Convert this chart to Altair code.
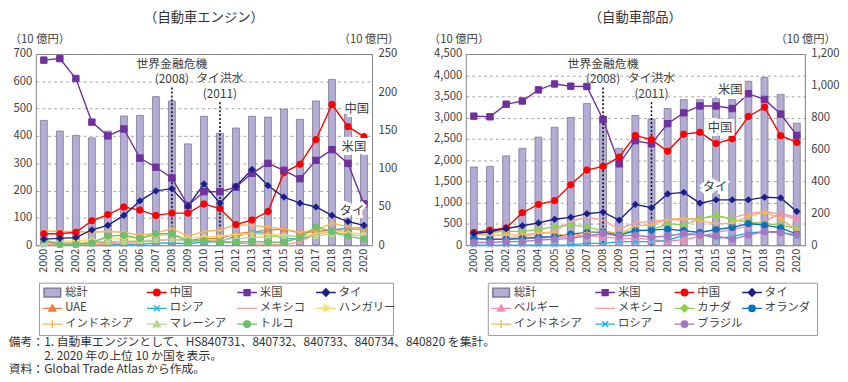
import altair as alt
import pandas as pd

FONT = "Noto Sans CJK JP"
TXT = "#404040"

YEARS = [str(y) for y in range(2000, 2021)]

# ---------------- 自動車エンジン ----------------
ENG_TOTAL = [457, 418, 402, 393, 418, 473, 475, 544, 528, 371, 472, 410, 429, 472, 469, 498, 461, 528, 607, 482, 371]
ENG_CHINA = [15, 15, 17, 32, 40, 50, 46, 39, 42, 42, 54, 48, 27, 33, 44, 95, 106, 138, 184, 155, 142]
ENG_US = [242, 244, 218, 161, 143, 152, 114, 102, 88, 52, 70, 70, 76, 94, 107, 98, 87, 111, 125, 107, 54]
ENG_THAI = [8, 9, 10, 20, 26, 39, 58, 71, 74, 51, 80, 55, 77, 99, 78, 63, 55, 50, 39, 31, 26]
ENG_UAE = [3, 3, 3, 4, 4, 5, 5, 6, 8, 6, 9, 9, 15, 17, 20, 21, 16, 18, 20, 22, 23]
ENG_RUSSIA = [0, 0, 0, 1, 1, 1, 1, 3, 3, 2, 4, 5, 12, 16, 16, 9, 8, 14, 20, 22, 20]
ENG_MEXICO = [1, 1, 1, 1, 2, 3, 4, 6, 8, 5, 6, 6, 3, 2, 1, 1, 4, 15, 18, 21, 21]
ENG_HUNGARY = [5, 5, 6, 7, 8, 9, 10, 12, 14, 9, 11, 12, 14, 15, 14, 13, 12, 15, 19, 16, 15]
ENG_INDONESIA = [19, 18, 18, 17, 18, 17, 13, 16, 22, 12, 18, 20, 27, 26, 24, 21, 17, 20, 29, 24, 20]
ENG_MALAYSIA = [3, 3, 3, 4, 5, 5, 6, 7, 8, 5, 7, 7, 9, 10, 11, 12, 12, 12, 15, 14, 12]
ENG_TURKEY = [7, 1, 1, 3, 12, 13, 9, 15, 15, 5, 6, 4, 4, 5, 4, 4, 10, 24, 18, 12, 8]

ENG_NAMES = ["中国", "米国", "タイ", "UAE", "ロシア", "メキシコ", "ハンガリー", "インドネシア", "マレーシア", "トルコ"]
ENG_VALUES = [ENG_CHINA, ENG_US, ENG_THAI, ENG_UAE, ENG_RUSSIA, ENG_MEXICO, ENG_HUNGARY,
              ENG_INDONESIA, ENG_MALAYSIA, ENG_TURKEY]
ENG_LEGEND = ["総計", "中国", "米国", "タイ", "UAE", "ロシア", "メキシコ", "ハンガリー", "インドネシア", "マレーシア", "トルコ"]
ENG_LABELS = ["中国", "米国", "タイ"]
ENG_LABEL_YEARS = ["2019", "2019", "2019"]
ENG_LABEL_VALUES = [178, 128, 45]

# ---------------- 自動車部品 ----------------
PRT_TOTAL = [1840, 1855, 2103, 2281, 2544, 2776, 3008, 3333, 3039, 2281, 3055, 2969, 3217, 3426, 3426, 3449, 3426, 3858, 3951, 3550, 2872]
PRT_US = [810, 806, 885, 905, 975, 1012, 998, 996, 788, 511, 656, 637, 763, 831, 874, 874, 858, 951, 915, 823, 689]
PRT_CHINA = [80, 95, 109, 204, 256, 280, 379, 472, 495, 553, 689, 662, 590, 697, 709, 639, 668, 808, 866, 687, 645]
PRT_THAI = [74, 85, 105, 122, 140, 163, 175, 198, 208, 157, 256, 235, 322, 332, 264, 285, 285, 285, 301, 297, 212]
PRT_BELGIUM = [40, 38, 40, 40, 45, 50, 55, 60, 55, 40, 45, 35, 25, 35, 55, 80, 100, 120, 150, 200, 175]
PRT_MEXICO = [40, 40, 45, 55, 70, 88, 150, 177, 157, 100, 142, 150, 160, 160, 170, 180, 170, 200, 210, 195, 160]
PRT_CANADA = [74, 80, 87, 87, 99, 117, 126, 117, 89, 74, 95, 95, 136, 126, 167, 188, 161, 146, 136, 126, 105]
PRT_NETHERLANDS = [43, 37, 37, 43, 50, 54, 70, 80, 85, 64, 91, 95, 101, 91, 80, 99, 111, 136, 126, 109, 70]
PRT_INDONESIA = [70, 64, 64, 66, 78, 78, 55, 80, 90, 70, 120, 130, 161, 171, 153, 136, 139, 181, 208, 167, 95]
PRT_RUSSIA = [0, 0, 0, 0, 0, 1, 2, 12, 12, 23, 23, 23, 29, 64, 70, 43, 54, 78, 85, 85, 54]
PRT_BRAZIL = [17, 17, 23, 23, 33, 37, 43, 58, 74, 58, 64, 50, 58, 74, 64, 58, 37, 64, 85, 78, 64]

PRT_NAMES = ["米国", "中国", "タイ", "ベルギー", "メキシコ", "カナダ", "オランダ", "インドネシア", "ロシア", "ブラジル"]
PRT_VALUES = [PRT_US, PRT_CHINA, PRT_THAI, PRT_BELGIUM, PRT_MEXICO, PRT_CANADA, PRT_NETHERLANDS,
              PRT_INDONESIA, PRT_RUSSIA, PRT_BRAZIL]
PRT_LEGEND = ["総計", "米国", "中国", "タイ", "ベルギー", "メキシコ", "カナダ", "オランダ", "インドネシア", "ロシア", "ブラジル"]
PRT_LABELS = ["米国", "中国", "タイ"]
PRT_LABEL_YEARS = ["2016", "2015", "2015"]
PRT_LABEL_VALUES = [971, 736, 365]

EVENT_YEARS = ["2008", "2011"]
EVENT_NAMES = ["世界金融危機", "タイ洪水"]
EVENT_SUBS = ["(2008)", "(2011)"]

NOTES = [
    "備考：1.  自動車エンジンとして、HS840731、840732、840733、840734、840820 を集計。",
    "\u200b　　　2.  2020 年の上位 10 か国を表示。",
    "資料：Global Trade Atlas から作成。",
]

# ---------------- styles ----------------
PLOT_H = 194
TOTAL_FILL = "#b3add6"
TOTAL_EDGE = "#7a7890"
COLORS = {
    "中国": "#ff0000", "米国": "#7030a0", "タイ": "#1b1f8a", "UAE": "#f07c3a",
    "ロシア": "#1fb2ea", "メキシコ": "#ff9c9c", "ハンガリー": "#ffd966", "インドネシア": "#fbb654",
    "マレーシア": "#b5d98f", "トルコ": "#6cc06a", "ベルギー": "#f28cb5", "カナダ": "#8fd14f",
    "オランダ": "#0b72c0", "ブラジル": "#a678c2",
}
MARKERS = {
    "中国": "circle", "米国": "square", "タイ": "diamond", "UAE": "triangle",
    "ロシア": "x", "メキシコ": None, "ハンガリー": "asterisk", "インドネシア": "plus",
    "マレーシア": "triangle", "トルコ": "circle", "ベルギー": "triangle", "カナダ": "diamond",
    "オランダ": "circle", "ブラジル": "circle",
}
PLOT_SHAPES = {
    "circle": "circle", "square": "square", "diamond": "diamond", "triangle": "triangle-up",
    "plus": "M-1,0H1M0,-1V1",
    "x": "M-0.8,-0.8L0.8,0.8M0.8,-0.8L-0.8,0.8",
    "asterisk": "M-1,0H1M0,-1V1M-0.7,-0.7L0.7,0.7M0.7,-0.7L-0.7,0.7",
}
LINE = "M-1,0H1"
LEG_SHAPES = {
    None: LINE,
    "circle": LINE + "M0.33,0A0.33,0.33 0 1 1 -0.33,0A0.33,0.33 0 1 1 0.33,0Z",
    "square": LINE + "M-0.3,-0.3H0.3V0.3H-0.3Z",
    "diamond": LINE + "M0,-0.38L0.38,0L0,0.38L-0.38,0Z",
    "triangle": LINE + "M0,-0.36L0.36,0.28H-0.36Z",
    "plus": LINE + "M0,-0.4V0.4",
    "x": LINE + "M-0.3,-0.3L0.3,0.3M0.3,-0.3L-0.3,0.3",
    "asterisk": LINE + "M0,-0.4V0.4M-0.3,-0.3L0.3,0.3M0.3,-0.3L-0.3,0.3",
}
TOTAL_SHAPE = "M-0.85,-0.45H0.85V0.45H-0.85Z"
EVENT_STYLE = [  # (label y, sub y, rule top) in pixels from plot top
    (10, 25, 34),
    (24, 41, 49),
]
MAJOR = {"中国", "米国", "タイ"}
INDEP = dict(color="independent", fill="independent", stroke="independent", shape="independent")


def make_panel(title, total, names, values, lmax, lstep, rmax, rstep, width, fmt,
               lt_x, rt_x, lab_names, lab_years, lab_vals, lab_dx):
    df_t = pd.DataFrame({"year": YEARS, "total": total})
    rows = []
    for n, vals in zip(names, values):
        for yr, v in zip(YEARS, vals):
            rows.append({"year": yr, "series": n, "value": v, "major": n in MAJOR,
                         "has_marker": MARKERS[n] is not None})
    df_l = pd.DataFrame(rows)

    xenc = alt.X("year:O", title=None, sort=YEARS,
                 scale=alt.Scale(paddingInner=0, paddingOuter=0),
                 axis=alt.Axis(labelAngle=-90, ticks=False, domain=False, labelPadding=3,
                               labelFontSize=11, labelColor=TXT))
    laxis = alt.Axis(values=list(range(0, lmax + 1, lstep)), format=fmt, grid=True,
                     gridDash=[3, 3], gridColor="#8c8c8c", gridWidth=0.8, ticks=False,
                     domain=False, labelPadding=4, title="（10 億円）", titleAngle=0,
                     titleAlign="left", titleBaseline="bottom", titleX=lt_x, titleY=-10)
    ly = alt.Y("total:Q", scale=alt.Scale(domain=[0, lmax], nice=False), axis=laxis)

    bars = alt.Chart(df_t).mark_bar(size=7, fill=TOTAL_FILL, stroke=TOTAL_EDGE,
                                    strokeWidth=0.8).encode(x=xenc, y=ly)
    left_layers = [bars]
    df_e = pd.DataFrame({"year": EVENT_YEARS, "name": EVENT_NAMES, "sub": EVENT_SUBS})
    for i, (ty, sy, rtop) in enumerate(EVENT_STYLE):
        ev = alt.Chart(df_e.iloc[[i]])
        left_layers.append(ev.mark_rule(color="black", strokeDash=[2, 2], strokeWidth=1.5)
                           .encode(x=xenc, y=alt.value(rtop), y2=alt.value(PLOT_H)))
        left_layers.append(ev.mark_text(fontSize=12, color=TXT, baseline="middle")
                           .encode(x=xenc, y=alt.value(ty), text="name:N"))
        left_layers.append(ev.mark_text(fontSize=12, color=TXT, baseline="middle")
                           .encode(x=xenc, y=alt.value(sy), text="sub:N"))
    left = alt.layer(*left_layers)

    raxis = alt.Axis(orient="right", values=list(range(0, rmax + 1, rstep)), format=fmt,
                     grid=False, ticks=False, domain=False, labelPadding=6,
                     title="（10 億円）", titleAngle=0, titleAlign="right",
                     titleBaseline="bottom", titleX=rt_x, titleY=-10)
    ry = alt.Y("value:Q", scale=alt.Scale(domain=[0, rmax], nice=False), axis=raxis)
    cs = alt.Scale(domain=names, range=[COLORS[n] for n in names])
    mk_names = [n for n in names if MARKERS[n] is not None]
    ss = alt.Scale(domain=mk_names, range=[PLOT_SHAPES[MARKERS[n]] for n in mk_names])

    def lines(df):
        return alt.Chart(df).mark_line(strokeWidth=1.4).encode(
            x=xenc, y=ry, color=alt.Color("series:N", scale=cs, legend=None))

    def points(df):
        return alt.Chart(df[df["has_marker"]]).mark_point(
            filled=True, size=42, opacity=1, strokeWidth=1).encode(
            x=xenc, y=ry,
            fill=alt.Fill("series:N", scale=cs, legend=None),
            stroke=alt.Stroke("series:N", scale=cs, legend=None),
            shape=alt.Shape("series:N", scale=ss, legend=None))

    minor = df_l[~df_l["major"]]
    major = df_l[df_l["major"]]
    right_layers = [lines(minor), points(minor), lines(major), points(major)]
    for n, yr, v, dx in zip(lab_names, lab_years, lab_vals, lab_dx):
        d = pd.DataFrame({"year": [yr], "value": [v], "label": [n]})
        right_layers.append(alt.Chart(d).mark_text(
            fontSize=12.5, dx=dx, color="white", stroke="white", strokeWidth=6,
            baseline="middle").encode(x=xenc, y=ry, text="label:N"))
        right_layers.append(alt.Chart(d).mark_text(
            fontSize=12.5, dx=dx, color=TXT, baseline="middle").encode(
            x=xenc, y=ry, text="label:N"))
    right = alt.layer(*right_layers)

    return alt.layer(left, right).resolve_scale(y="independent").properties(
        width=width, height=PLOT_H,
        title=alt.TitleParams(title, fontSize=13.5, fontWeight="normal", color="#333333",
                              offset=9, anchor="middle"))


def make_legend(names, width, col_pos):
    df = pd.DataFrame({"item": names,
                       "col": [i % 4 for i in range(len(names))],
                       "row": [i // 4 for i in range(len(names))]})
    fills = [TOTAL_FILL if n == "総計" else COLORS[n] for n in names]
    strokes = [TOTAL_EDGE if n == "総計" else COLORS[n] for n in names]
    shapes = [TOTAL_SHAPE if n == "総計" else LEG_SHAPES[MARKERS[n]] for n in names]
    x = alt.X("col:Q", scale=alt.Scale(domain=[0, 1, 2, 3], range=col_pos), axis=None)
    y = alt.Y("row:Q", scale=alt.Scale(domain=[0, 2], range=[10, 42]), axis=None)
    base = alt.Chart(df)
    sym = base.mark_point(filled=True, size=400, opacity=1, strokeWidth=1.4).encode(
        x=x, y=y,
        shape=alt.Shape("item:N", scale=alt.Scale(domain=names, range=shapes), legend=None),
        fill=alt.Fill("item:N", scale=alt.Scale(domain=names, range=fills), legend=None),
        stroke=alt.Stroke("item:N", scale=alt.Scale(domain=names, range=strokes), legend=None))
    txt = base.mark_text(align="left", baseline="middle", dx=13, fontSize=11.5,
                         color=TXT).encode(x=x, y=y, text="item:N")
    return alt.layer(sym, txt).properties(
        width=width, height=53, view=alt.ViewBackground(stroke="#9a9a9a", strokeWidth=1))


eng = make_panel("（自動車エンジン）", ENG_TOTAL, ENG_NAMES, ENG_VALUES, 700, 100, 250, 50,
                 341, "d", -27, 27, ENG_LABELS, ENG_LABEL_YEARS, ENG_LABEL_VALUES, [9, 6, 4])
prt = make_panel("（自動車部品）", PRT_TOTAL, PRT_NAMES, PRT_VALUES, 4500, 500, 1200, 200,
                 344, ",.0f", -38, 31, PRT_LABELS, PRT_LABEL_YEARS, PRT_LABEL_VALUES, [-2, 4, -1])

eng_leg = make_legend(ENG_LEGEND, 359, [13.5, 119.5, 211, 291])
prt_leg = make_legend(PRT_LEGEND, 334, [13.5, 119, 199.5, 268])

left_col = alt.vconcat(eng, eng_leg, spacing=9, center=True).resolve_scale(**INDEP)
right_col = alt.vconcat(prt, prt_leg, spacing=9, center=True).resolve_scale(**INDEP)

chart = alt.hconcat(left_col, right_col, spacing=28).resolve_scale(**INDEP).properties(
    padding={"left": 0, "top": 0, "right": 0, "bottom": 0},
    title=alt.TitleParams(NOTES, orient="bottom", anchor="start", fontSize=12,
                          fontWeight="normal", color="#333333", offset=2, lineHeight=13.5),
).configure(font=FONT).configure_view(stroke="#808080", strokeWidth=1).configure_axis(
    labelFont=FONT, titleFont=FONT, labelColor=TXT, titleColor=TXT, labelFontSize=11.5,
    titleFontSize=11.5, titleFontWeight="normal")

chart.save("out.html", embed_options={"renderer": "svg", "actions": False})
